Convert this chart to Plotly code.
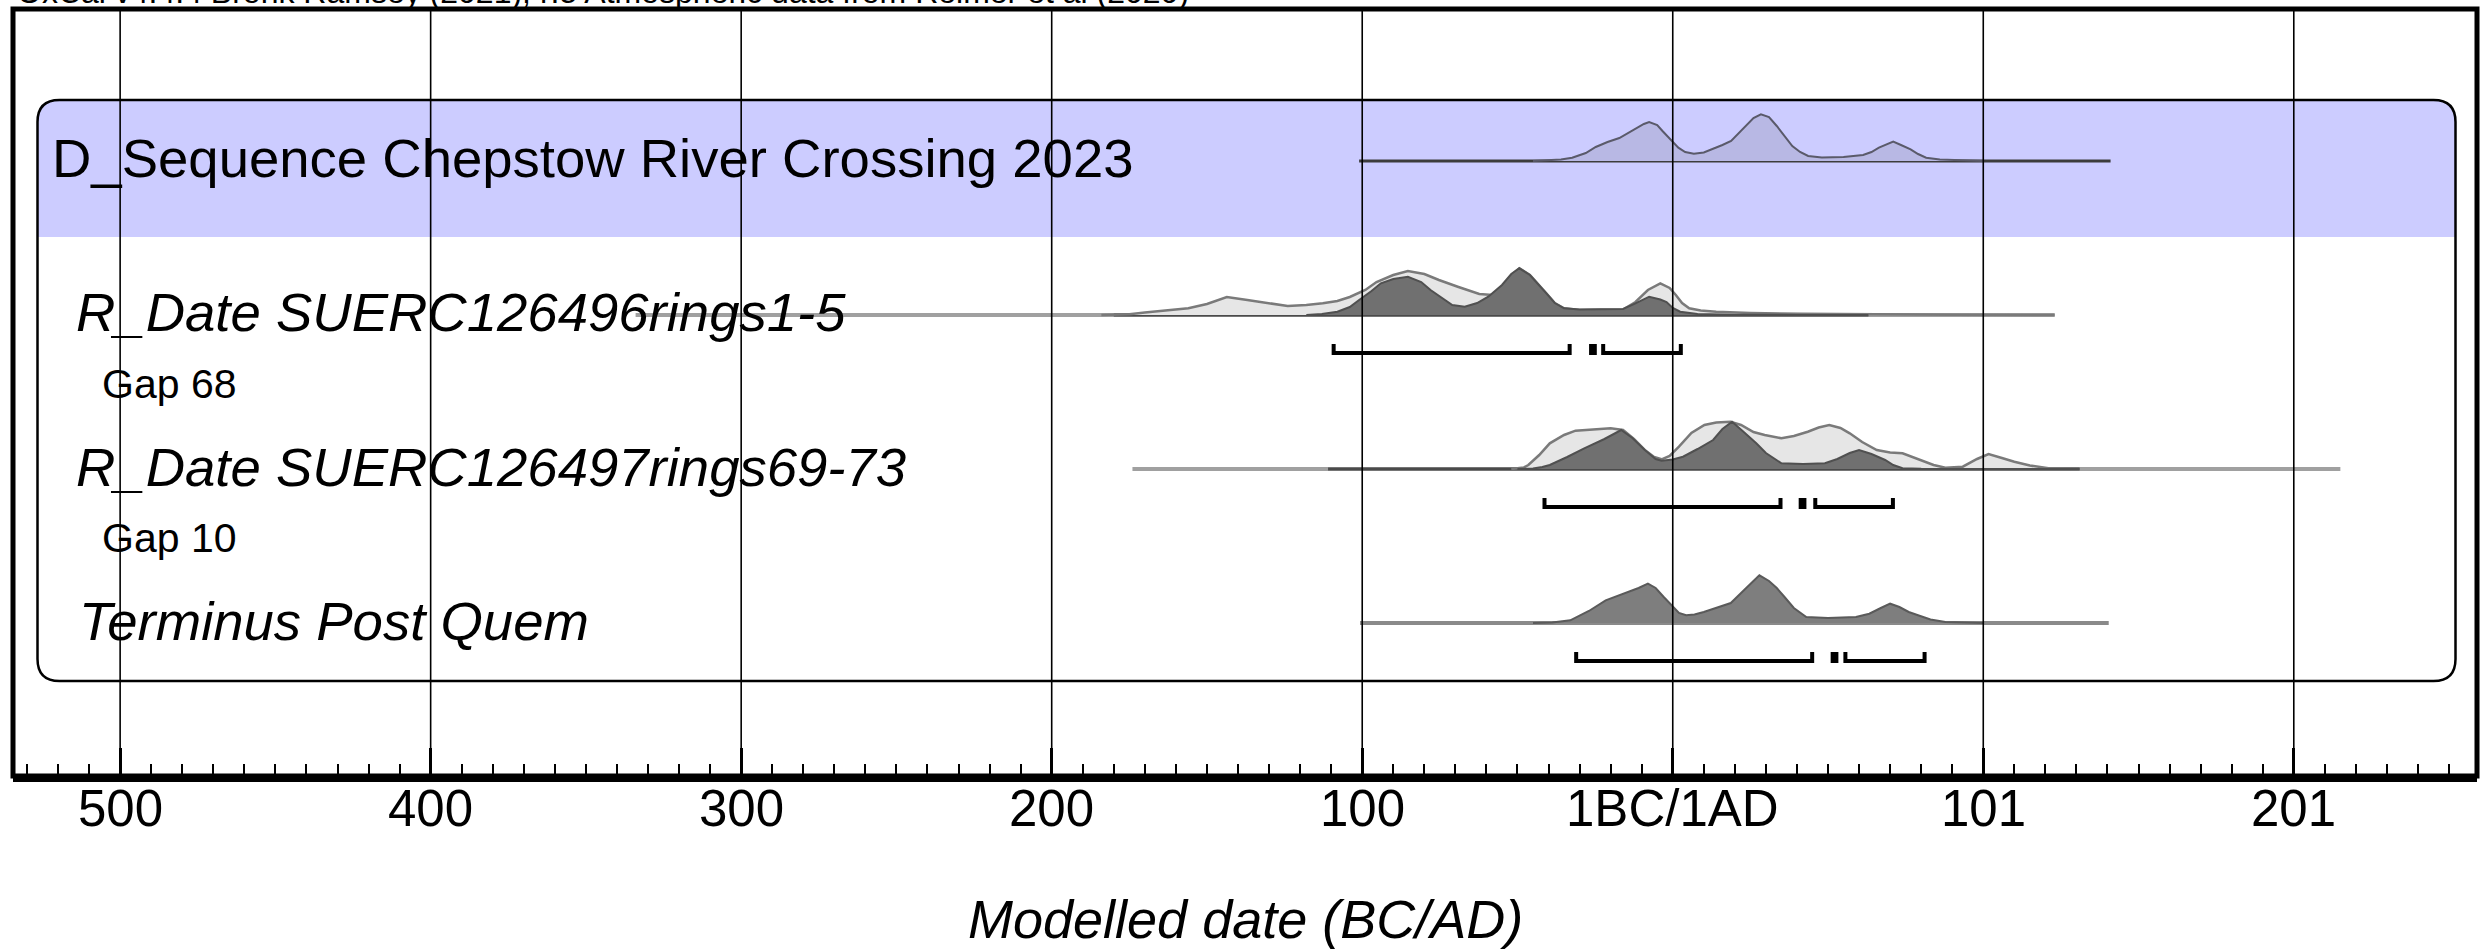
import plotly.graph_objects as go

# ---------------- data (years relative to the 1BC/1AD boundary; BC negative) ----------------
tick_vals = [-500, -400, -300, -200, -100, 0, 100, 200]
tick_text = ["500", "400", "300", "200", "100", "1BC/1AD", "101", "201"]

caption = "OxCal v4.4.4 Bronk Ramsey (2021); r:5 Atmospheric data from Reimer et al (2020)"
group_label = "D_Sequence Chepstow River Crossing 2023"
row_labels = ["R_Date SUERC126496rings1-5", "R_Date SUERC126497rings69-73", "Terminus Post Quem"]
gap_labels = ["Gap 68", "Gap 10"]

# D_Sequence summary distribution (relative probability)
dseq_x = [-45, -40, -36, -32.4, -28, -24.8, -21, -17.2, -12.2, -9.3, -7.6, -5, -3.3, -1, 1.8, 4, 6.8, 10, 13.2, 16, 18.8, 23.3, 26, 28.4, 31, 33.5, 36, 38.5, 41, 43.6, 48, 55, 61.3, 64, 66.4, 69, 71, 73.5, 76.6, 79, 81.6, 86, 91.8, 100]
dseq_p = [0, 0.5, 1.5, 3.3, 8, 14, 19, 23, 31.7, 37, 39, 36, 30, 22, 13.3, 9, 7.3, 8.5, 12.3, 16, 20, 35, 43, 46.7, 44, 35, 25, 15, 9, 5, 3.5, 4, 6, 9, 13.3, 17, 19.3, 16, 11.7, 7, 3.3, 1.5, 0.7, 0]
dseq_line = (-101, 141)

# R_Date SUERC126496rings1-5 : likelihood (light) and posterior (dark)
r1_like_x = [-184, -175, -170, -163, -156, -150, -143.6, -137, -130, -124, -118, -112.7, -108, -104, -99, -95.4, -90, -85.3, -80, -75.3, -69, -62.3, -58, -55, -52, -49.4, -46, -43, -40.7, -38, -35, -30, -22, -16, -12, -8, -4, -1, 1, 3, 5.3, 9, 14, 25, 41, 63, 90, 123]
r1_like_p = [0, 0.8, 2.5, 4.5, 6.7, 11, 18, 15, 11.5, 9, 10, 11.7, 14, 18, 25, 33, 40, 44, 41, 35, 28, 21, 20, 28, 40, 46.7, 40, 30, 21.7, 12, 6.7, 5, 5, 5.5, 13, 25, 31.7, 27, 20, 12, 6.7, 4.5, 3.3, 2, 1.2, 0.5, 0.2, 0]
r1_post_x = [-118, -113, -108, -104, -101, -97, -94, -90, -85.3, -81, -78, -74, -71, -67, -63, -59.4, -55, -52, -49.4, -46, -43, -40.7, -38, -35, -30, -20, -16, -12, -7.6, -4, -2, 0, 2.4, 8, 20, 40, 63]
r1_post_p = [0, 1, 3.3, 8, 15, 24, 31.7, 36, 38.3, 33, 25, 16, 10, 8.3, 12, 18.3, 30, 41, 46.7, 40, 30, 21.7, 12, 6.7, 5.5, 5.7, 6, 11.7, 18.3, 15.5, 13, 7, 3.3, 1, 0.3, 0.1, 0]
r1_like_line = (-334, 123)
r1_post_line = (-180, 63)
r1_ranges = [(-109.2, -33.2), (-26.3, -25.1), (-22.4, 2.6)]

# R_Date SUERC126497rings69-73
r2_like_x = [-52, -48, -46.5, -43, -39.6, -35, -31.3, -25, -20, -16, -12.5, -9, -6, -3.6, -1, 2, 6, 10.2, 14, 18.6, 22, 26, 29.6, 35, 39, 43.5, 47, 50.4, 54, 57, 61, 65.7, 70, 74, 79.5, 84, 87.8, 93.4, 98, 101.7, 106, 110, 115, 121, 131]
r2_like_p = [0, 1.5, 4, 14, 25.7, 34, 38.3, 40, 40.7, 39, 30, 19, 12, 9.7, 13, 22.3, 36, 44, 46.5, 47.3, 44, 37, 34, 30.7, 33, 37.3, 41.5, 44, 41, 35.7, 27, 19, 16.5, 15.7, 9, 4, 1.3, 2.3, 10, 15, 11, 7.3, 3.5, 0.7, 0]
r2_post_x = [-50, -45, -42, -39.6, -34, -28.5, -22, -16.6, -13, -9, -5.5, -3.6, 0, 3.3, 8, 13, 16, 19.1, 22.5, 26.9, 30, 35, 42, 49, 53, 57, 60, 64, 68.4, 71, 74, 80, 100, 131]
r2_post_p = [0, 0.5, 2, 4, 12, 20.7, 30, 39, 31, 19, 10, 8.3, 9.5, 12.3, 20, 29, 40, 47.3, 38, 25.7, 16, 5.7, 5, 5.7, 10, 16, 19, 15, 9, 4, 0.7, 0.2, 0.1, 0]
r2_like_line = (-174, 215)
r2_post_line = (-111, 131)
r2_ranges = [(-41.3, 34.7), (41.2, 42.4), (45.9, 70.9)]

# Terminus Post Quem
tpq_x = [-45, -38.8, -33, -27, -21.6, -15.8, -11, -8, -5.5, -2.9, 0, 2, 4.3, 7, 10, 14, 18.7, 23, 27.9, 31, 33.5, 36, 39, 43, 50, 59, 63.3, 67, 70, 73, 76, 79, 83, 87.8, 95, 100]
tpq_p = [0, 0.5, 2.7, 12, 22.7, 29.3, 35, 39.3, 35, 26, 16, 10, 7.7, 8.5, 11, 15, 20, 33, 47.7, 42, 35, 26, 15, 6, 5, 6, 9.3, 15, 19.3, 16, 11, 7.7, 3.5, 1, 0.3, 0]
tpq_line = (-100.7, 140.4)
tpq_ranges = [(-31.1, 44.9), (51.5, 52.7), (55.6, 81.1)]

# ---------------- layout geometry ----------------
W, H = 2484, 949
ML, MR, MT, MB = 13, 7, 9, 173
PW, PH = W - ML - MR, H - MT - MB
X_MIN, X_MAX = -534.5, 259.0
PX_PER_YEAR = PW / (X_MAX - X_MIN)
ROW_PX = 154.0
ROW0_PX = 161.0
Y_TOP = -(ROW0_PX - MT) / ROW_PX
Y_BOT = Y_TOP + PH / ROW_PX
HSCALE = 1.0 / ROW_PX          # relative probability unit -> rows
FONT = "Liberation Sans, Arial, sans-serif"


def px_to_year(px):
    return X_MIN + (px - ML) / PX_PER_YEAR


def px_to_row(py):
    return (py - ROW0_PX) / ROW_PX


def py_to_paper(py):
    return (H - MB - py) / PH


fig = go.Figure()


def add_line(rng, row, color, width):
    fig.add_trace(go.Scatter(x=list(rng), y=[row, row], mode="lines",
                             line=dict(color=color, width=width), hoverinfo="skip", showlegend=False))


def add_dist(xs, ps, row, fill, outline, width):
    x = [xs[0]] + list(xs) + [xs[-1]]
    y = [row] + [row - p * HSCALE for p in ps] + [row]
    fig.add_trace(go.Scatter(x=x, y=y, mode="lines", fill="toself", fillcolor=fill,
                             line=dict(color=outline, width=width), hoverinfo="skip", showlegend=False))


def add_ranges(ranges, row):
    off = 38 / ROW_PX
    up = 9 / ROW_PX
    xs, ys = [], []
    for a, b in ranges:
        xs += [a, a, b, b, None]
        ys += [row + off - up, row + off, row + off, row + off - up, None]
    fig.add_trace(go.Scatter(x=xs, y=ys, mode="lines", line=dict(color="black", width=4),
                             hoverinfo="skip", showlegend=False))


# row 0: D_Sequence
add_line(dseq_line, 0, "#3c3c3c", 3)
add_dist(dseq_x, dseq_p, 0, "rgb(184,184,228)", "#5a5a6a", 2)

# row 1
add_line(r1_like_line, 1, "#a0a0a0", 4)
add_line(r1_post_line, 1, "#4a4a4a", 3)
add_dist(r1_like_x, r1_like_p, 1, "rgb(230,230,230)", "#7a7a7a", 2.5)
add_dist(r1_post_x, r1_post_p, 1, "rgb(112,112,112)", "#505050", 2)
add_ranges(r1_ranges, 1)

# row 2
add_line(r2_like_line, 2, "#a0a0a0", 4)
add_line(r2_post_line, 2, "#4a4a4a", 3)
add_dist(r2_like_x, r2_like_p, 2, "rgb(230,230,230)", "#7a7a7a", 2.5)
add_dist(r2_post_x, r2_post_p, 2, "rgb(112,112,112)", "#505050", 2)
add_ranges(r2_ranges, 2)

# row 3
add_line(tpq_line, 3, "#8a8a8a", 4)
add_dist(tpq_x, tpq_p, 3, "rgb(126,126,126)", "#5a5a5a", 2)
add_ranges(tpq_ranges, 3)

# ---------------- group box (rounded) ----------------
bx0, bx1 = px_to_year(37.5), px_to_year(2455.5)
by0, byb, by1 = px_to_row(100), px_to_row(237), px_to_row(681)
rx, ry = 22 / PX_PER_YEAR, 22 / ROW_PX
fill_path = (f"M {bx0},{byb} L {bx0},{by0+ry} Q {bx0},{by0} {bx0+rx},{by0} "
             f"L {bx1-rx},{by0} Q {bx1},{by0} {bx1},{by0+ry} L {bx1},{byb} Z")
outline_path = (f"M {bx0},{by0+ry} Q {bx0},{by0} {bx0+rx},{by0} L {bx1-rx},{by0} "
                f"Q {bx1},{by0} {bx1},{by0+ry} L {bx1},{by1-ry} Q {bx1},{by1} {bx1-rx},{by1} "
                f"L {bx0+rx},{by1} Q {bx0},{by1} {bx0},{by1-ry} Z")
shapes = [
    dict(type="path", path=fill_path, xref="x", yref="y", fillcolor="#CCCCFF",
         line=dict(width=0), layer="below"),
    dict(type="path", path=outline_path, xref="x", yref="y", fillcolor="rgba(0,0,0,0)",
         line=dict(color="black", width=2.5), layer="below"),
]
# grid lines (drawn over the curves, as in the original)
for v in tick_vals:
    shapes.append(dict(type="line", xref="x", yref="paper", x0=v, x1=v, y0=0, y1=1,
                       line=dict(color="black", width=1.6), layer="above"))
# heavy frame
shapes.append(dict(type="rect", xref="paper", yref="paper", x0=0, x1=1, y0=0, y1=1,
                   line=dict(color="black", width=5), layer="above"))


def ann(text, px_x, py, size, italic=False):
    t = f"<i>{text}</i>" if italic else text
    return dict(text=t, xref="paper", yref="y", x=(px_x - ML) / PW, y=py,
                xanchor="left", yanchor="middle", showarrow=False,
                font=dict(family=FONT, size=size, color="black"))


annotations = [
    ann(group_label, 50, px_to_row(158.5), 54.5),
    ann(row_labels[0], 74, px_to_row(312.5), 54.5, True),
    ann(gap_labels[0], 100, px_to_row(384), 41),
    ann(row_labels[1], 74, px_to_row(467.5), 54.5, True),
    ann(gap_labels[1], 100, px_to_row(537.5), 41),
    ann(row_labels[2], 77, px_to_row(621.5), 54.5, True),
    dict(text="<i>Modelled date (BC/AD)</i>", xref="paper", yref="paper", x=0.5,
         y=py_to_paper(919), xanchor="center", yanchor="middle", showarrow=False,
         font=dict(family=FONT, size=54, color="black")),
    dict(text=caption, xref="paper", yref="paper", x=(15 - ML) / PW,
         y=py_to_paper(-8), xanchor="left", yanchor="middle", showarrow=False,
         font=dict(family=FONT, size=32, color="black")),
]
# tick labels (placed just under the heavy axis line)
for v, t in zip(tick_vals, tick_text):
    annotations.append(dict(text=t, xref="x", yref="paper", x=v, y=py_to_paper(808),
                            xanchor="center", yanchor="middle", showarrow=False,
                            font=dict(family=FONT, size=51, color="black")))

fig.update_layout(
    width=W, height=H, autosize=False,
    margin=dict(l=ML, r=MR, t=MT, b=MB, pad=0),
    paper_bgcolor="white", plot_bgcolor="white",
    showlegend=False, shapes=shapes, annotations=annotations,
    xaxis=dict(range=[X_MIN, X_MAX], tickmode="array", tickvals=tick_vals, ticktext=tick_text,
               showticklabels=False,
               ticks="inside", ticklen=28, tickwidth=3, tickcolor="black",
               showline=True, linecolor="black", linewidth=6,
               showgrid=False, zeroline=False, layer="above traces",
               minor=dict(ticks="inside", ticklen=12, tickwidth=2, tickcolor="black",
                          tick0=0, dtick=10, showgrid=False)),
    yaxis=dict(range=[Y_BOT, Y_TOP], showticklabels=False, ticks="", showgrid=False,
               zeroline=False, showline=False),
)

fig.write_html("out.html", config={"displayModeBar": False},
               post_script="document.body.style.margin='0px';")
